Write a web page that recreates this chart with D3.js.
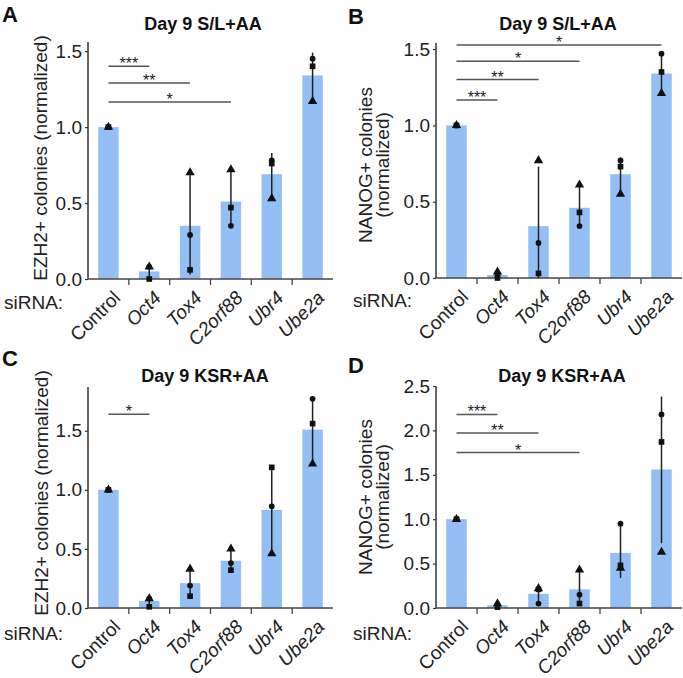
<!DOCTYPE html>
<html><head><meta charset="utf-8">
<script src="https://cdn.jsdelivr.net/npm/d3@7"></script>
<style>
body{margin:0;background:#fff;}
svg text{font-family:"Liberation Sans",Arial,Helvetica,sans-serif;fill:#222;}
</style></head>
<body><svg id="c" width="683" height="678"></svg>
<script>
const categories = ["Control","Oct4","Tox4","C2orf88","Ubr4","Ube2a"];

// Panel A: EZH2+, Day 9 S/L+AA
const meanA = [1.0, 0.05, 0.35, 0.51, 0.69, 1.34];
const circA = [1.0, 0.08, 0.29, 0.35, 0.78, 1.45];
const squareA = [1.0, 0.00, 0.06, 0.47, 0.76, 1.40];
const triA = [1.0, 0.08, 0.70, 0.72, 0.53, 1.17];
const errLoA = [1.0, 0.0, 0.03, 0.35, 0.53, 1.17];
const errHiA = [1.0, 0.09, 0.70, 0.72, 0.83, 1.49];
const sigTargetA = [1, 2, 3];
const sigLabelA = ["***", "**", "*"];
const sigLevelA = [1.40, 1.29, 1.165];

// Panel B: NANOG+, Day 9 S/L+AA
const meanB = [1.0, 0.02, 0.34, 0.46, 0.68, 1.34];
const circB = [1.0, 0.02, 0.23, 0.34, 0.77, 1.47];
const squareB = [1.0, 0.00, 0.03, 0.43, 0.73, 1.35];
const triB = [1.0, 0.04, 0.77, 0.61, 0.55, 1.21];
const errLoB = [1.0, 0.0, 0.0, 0.34, 0.55, 1.21];
const errHiB = [1.0, 0.04, 0.73, 0.61, 0.79, 1.47];
const sigTargetB = [1, 2, 3, 5];
const sigLabelB = ["***", "**", "*", "*"];
const sigLevelB = [1.167, 1.30, 1.42, 1.527];

// Panel C: EZH2+, Day 9 KSR+AA
const meanC = [1.0, 0.06, 0.21, 0.40, 0.83, 1.51];
const circC = [1.0, 0.08, 0.19, 0.38, 0.86, 1.77];
const squareC = [1.0, 0.01, 0.10, 0.32, 1.19, 1.56];
const triC = [1.0, 0.08, 0.33, 0.50, 0.46, 1.22];
const errLoC = [1.0, 0.01, 0.10, 0.32, 0.46, 1.22];
const errHiC = [1.0, 0.09, 0.33, 0.50, 1.19, 1.77];
const sigTargetC = [1];
const sigLabelC = ["*"];
const sigLevelC = [1.64];

// Panel D: NANOG+, Day 9 KSR+AA
const meanD = [1.0, 0.03, 0.16, 0.21, 0.62, 1.56];
const circD = [1.0, 0.03, 0.05, 0.15, 0.95, 2.18];
const squareD = [1.0, 0.01, 0.21, 0.05, 0.48, 1.87];
const triD = [1.0, 0.05, 0.22, 0.43, 0.45, 0.63];
const errLoD = [1.0, 0.01, 0.05, 0.04, 0.34, 0.73];
const errHiD = [1.0, 0.05, 0.22, 0.43, 0.93, 2.38];
const sigTargetD = [1, 2, 3];
const sigLabelD = ["***", "**", "*"];
const sigLevelD = [2.18, 1.97, 1.75];

const ticksABC = [0, 0.5, 1.0, 1.5];
const ticksD = [0, 0.5, 1.0, 1.5, 2.0, 2.5];

const BAR = "#93bff4";
const svg = d3.select("#c");

const panels = [
  {letter:"A", lx:2, ly:22, title:"Day 9 S/L+AA", tx:203, ty:30,
   xr:[88,333], yr:[279,42], dom:[0,1.56], ticks:ticksABC,
   ylab:["EZH2+ colonies (normalized)"], ylx:[47], yly:158, sx:4, sy:309,
   mean:meanA, circ:circA, sq:squareA, tri:triA, lo:errLoA, hi:errHiA,
   st:sigTargetA, sl:sigLabelA, sv:sigLevelA},
  {letter:"B", lx:348, ly:24, title:"Day 9 S/L+AA", tx:558, ty:30,
   xr:[436,682], yr:[278,43], dom:[0,1.54], ticks:ticksABC,
   ylab:["NANOG+ colonies","(normalized)"], ylx:[372,389], yly:165, sx:353, sy:307,
   mean:meanB, circ:circB, sq:squareB, tri:triB, lo:errLoB, hi:errHiB,
   st:sigTargetB, sl:sigLabelB, sv:sigLevelB},
  {letter:"C", lx:2, ly:366, title:"Day 9 KSR+AA", tx:205, ty:382,
   xr:[88,333], yr:[608,387], dom:[0,1.87], ticks:ticksABC,
   ylab:["EZH2+ colonies (normalized)"], ylx:[48], yly:493, sx:4, sy:640,
   mean:meanC, circ:circC, sq:squareC, tri:triC, lo:errLoC, hi:errHiC,
   st:sigTargetC, sl:sigLabelC, sv:sigLevelC},
  {letter:"D", lx:348, ly:373, title:"Day 9 KSR+AA", tx:562, ty:382,
   xr:[436,682], yr:[608,386], dom:[0,2.5], ticks:ticksD,
   ylab:["NANOG+ colonies","(normalized)"], ylx:[372,389], yly:497, sx:353, sy:640,
   mean:meanD, circ:circD, sq:squareD, tri:triD, lo:errLoD, hi:errHiD,
   st:sigTargetD, sl:sigLabelD, sv:sigLevelD}
];

panels.forEach(p => {
  const g = svg.append("g");
  const x = d3.scaleBand().domain(categories).range(p.xr).paddingInner(0.5).paddingOuter(0.25);
  const y = d3.scaleLinear().domain(p.dom).range(p.yr);
  const cx = c => x(c) + x.bandwidth()/2;
  const y0 = y(0);

  // letter & title
  g.append("text").attr("x", p.lx).attr("y", p.ly).attr("font-size", 22).attr("font-weight", "bold").style("fill","#111").text(p.letter);
  g.append("text").attr("x", p.tx).attr("y", p.ty).attr("text-anchor","middle").attr("font-size", 18).attr("font-weight","bold").style("fill","#111").text(p.title);

  // bars
  g.selectAll("rect.bar").data(categories).join("rect")
    .attr("x", c => x(c)).attr("width", x.bandwidth())
    .attr("y", (c,i) => y(p.mean[i])).attr("height", (c,i) => y0 - y(p.mean[i]))
    .attr("fill", BAR);

  // y axis
  const ya = g.append("g").attr("transform", `translate(${p.xr[0]},0)`)
    .call(d3.axisLeft(y).tickValues(p.ticks).tickFormat(d3.format(".1f")).tickSize(3).tickPadding(3));
  ya.select(".domain").attr("d", `M0,${p.yr[1]}V${y0}`).attr("stroke","#333").attr("stroke-width",1.5);
  ya.selectAll(".tick line").attr("stroke","#333").attr("stroke-width",1.2);
  ya.selectAll(".tick text").attr("font-size", 19).attr("font-family","Liberation Sans, Arial, sans-serif").attr("fill","#222");

  // x axis line and between-category ticks
  g.append("line").attr("x1", p.xr[0]).attr("x2", p.xr[1]).attr("y1", y0).attr("y2", y0).attr("stroke","#444").attr("stroke-width",1.5);
  for (let i = 1; i < categories.length; i++) {
    const bx = (cx(categories[i-1]) + cx(categories[i]))/2;
    g.append("line").attr("x1", bx).attr("x2", bx).attr("y1", y0).attr("y2", y0+6).attr("stroke","#444").attr("stroke-width",1.3);
  }
  // category labels
  categories.forEach((c,i) => {
    const t = g.append("text").attr("text-anchor","end").attr("font-size",19)
      .attr("transform", `translate(${cx(c)+13},${y0+20}) rotate(-45)`).text(c);
    if (i > 0) t.style("font-style","italic");
  });
  g.append("text").attr("x", p.sx).attr("y", p.sy).attr("font-size", 19).text("siRNA:");

  // y label
  p.ylab.forEach((l,k) => {
    g.append("text").attr("text-anchor","middle").attr("font-size",19)
      .attr("transform", `translate(${p.ylx[k]},${p.yly}) rotate(-90)`).text(l);
  });

  // error bars
  g.selectAll("line.err").data(categories).join("line")
    .attr("x1", c => cx(c)).attr("x2", c => cx(c))
    .attr("y1", (c,i) => y(p.lo[i])).attr("y2", (c,i) => y(p.hi[i]))
    .attr("stroke","#222").attr("stroke-width",1.5);

  // replicate points
  const sym = (type, size, vals) => {
    g.selectAll(null).data(categories).join("path")
      .attr("d", d3.symbol().type(type).size(size))
      .attr("transform", (c,i) => `translate(${cx(c)},${y(vals[i])})`)
      .attr("fill","#111");
  };
  sym(d3.symbolCircle, 26, p.circ);
  sym(d3.symbolSquare, 32, p.sq);
  sym(d3.symbolTriangle, 38, p.tri);

  // significance lines
  p.st.forEach((t,k) => {
    const x1 = cx(categories[0]), x2 = cx(categories[t]), yy = y(p.sv[k]);
    g.append("line").attr("x1", x1).attr("x2", x2).attr("y1", yy).attr("y2", yy).attr("stroke","#555").attr("stroke-width",1.5);
    g.append("text").attr("x", (x1+x2)/2).attr("y", yy+3).attr("text-anchor","middle").attr("font-size",16).text(p.sl[k]);
  });
});
</script></body></html>
